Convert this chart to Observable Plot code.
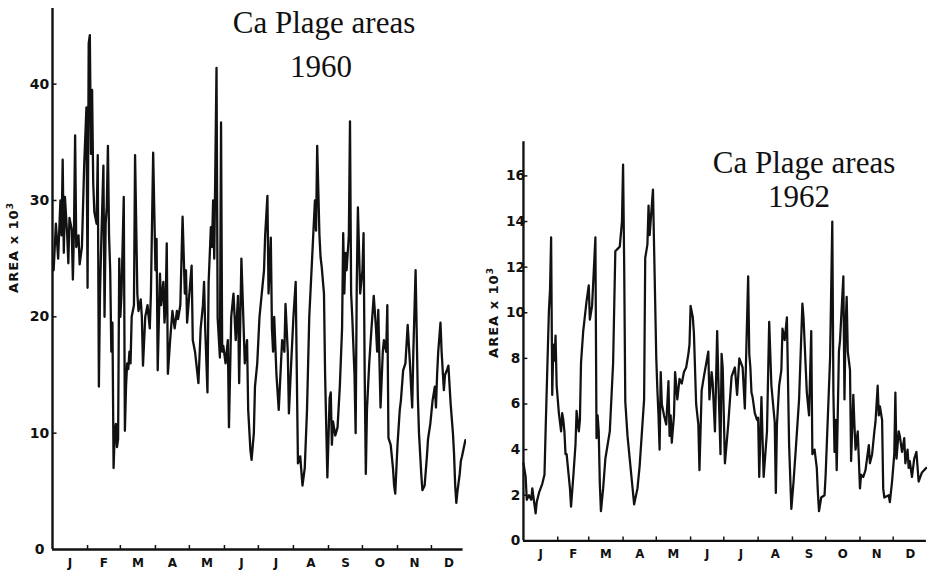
<!DOCTYPE html>
<html>
<head>
<meta charset="utf-8">
<script src="https://cdn.jsdelivr.net/npm/d3@7"></script>
<script src="https://cdn.jsdelivr.net/npm/@observablehq/plot@0.6"></script>
<style>
  html, body { margin: 0; padding: 0; background: #fff; }
  #fig { position: relative; width: 927px; height: 573px; overflow: hidden; background: #fff; }
  .panel { position: absolute; top: 0; }
  .title { position: absolute; width: 300px; text-align: center; white-space: nowrap;
           font-family: "Liberation Serif", "DejaVu Serif", serif; font-size: 31px; line-height: 31px; color: #111; }
  .ylab { position: absolute; white-space: nowrap; transform: translate(-50%, -50%) rotate(-90deg);
          font-family: "DejaVu Sans", sans-serif; font-weight: bold; font-size: 13px; letter-spacing: 1px; color: #111; }
  .ylab sup { font-size: 9px; letter-spacing: 0; }
</style>
</head>
<body>
<div id="fig">
  <div class="panel" id="p1960" style="left:0px"></div>
  <div class="panel" id="p1962" style="left:470px"></div>
  <div class="title" style="left:174px; top:7px">Ca Plage areas</div>
  <div class="title" style="left:171px; top:51px">1960</div>
  <div class="title" style="left:654px; top:147px">Ca Plage areas</div>
  <div class="title" style="left:649px; top:181px">1962</div>
  <div class="ylab" style="left:13px; top:248px">AREA x 10<sup>3</sup></div>
  <div class="ylab" style="left:493px; top:313px">AREA x 10<sup>3</sup></div>
</div>
<script>
// Daily Ca plage area (units of 10^3), day 0 = 1 January.
const days1960 = [1,3,5,7,8,9,10,11,13,14,15,17,18,19,20,21,23,24,26,28,30,31,32,33,34,35,36,37,39,40,41,42,43,45,46,47,48,49,50,51,52,53,54,55,56,57,58,59,60,61,63,64,65,66,67,68,69,70,72,73,75,76,78,79,80,82,84,86,87,89,91,92,93,95,96,98,99,100,101,102,104,106,108,110,111,113,115,117,118,119,121,123,124,126,129,131,133,134,135,137,138,140,141,142,143,145,146,148,149,150,151,153,155,156,158,160,162,164,165,167,168,170,172,173,175,176,178,179,181,183,185,187,188,190,191,193,194,195,196,198,200,202,203,205,206,208,209,211,213,215,216,217,219,221,223,225,227,230,232,233,234,236,237,238,240,241,243,245,246,247,248,250,252,254,256,257,258,259,260,262,263,264,265,267,268,269,270,272,274,275,276,277,278,280,282,284,286,287,288,290,292,293,295,296,297,299,301,302,303,305,307,308,310,312,314,316,317,318,319,321,323,324,326,327,329,331,332,334,336,338,339,340,341,343,344,346,347,349,350,352,354,355,356,357,358,360,361,362,365];
const area1960 = [24,28,25,30,27,33.5,25.5,30.3,27,24.6,28.5,27.5,23.2,27.5,35.6,26,27,24.5,26,33,38,22.5,43.5,44.2,34,39.5,31.5,29,28,33.9,14,22,26,33,20,28,29.5,34.7,27,24,17,19.5,7,10,10.8,8.8,9.5,25,20,22,30.3,10.2,14,16,15.5,17,16,20,21,33.9,22,20.5,21.5,20,15.8,20,21,19,22,34.1,24,26.7,15.4,23.7,21,23,19.5,21,26.3,15.1,18,20.5,19,20.5,19.8,21,28.6,22,24,19.5,22,24.4,18,17,14.3,19,21,23,19,13.5,22.9,27.7,26,30,25,41.4,19.9,16.5,36.7,17,17.5,16,18,10.5,20,22,18,21.8,14.3,25,22,16,18,12,8.5,7.7,10,14,16,20,22,24,27,30.4,22,26.8,19,17,20,15,12,16,18,17,21.1,17,11.7,16,20,23,15,7.4,8,5.5,7,12,20,26,30,27.4,34.7,27,25.1,24.3,22,15,6.2,13,13.5,9,11,9.8,10.5,14,19,27.2,22,25.5,24,27,36.8,22,20,15,10,23,29.4,22,24,27.2,15,6.5,12,16,19,21.8,19,17,20.6,12.2,17,18,17,21,9.6,9,7,5.5,4.8,9,12,12.8,15.4,16,19.3,16,14,12.2,17,24,13.1,10,6.5,5.1,5.5,8,9.5,10.8,12.8,14,12.2,15,17,19.5,17,13.7,15,15.5,15.8,12.5,10,8.2,5.5,4,5,6.5,7.6,8,9.4];

const days1962 = [0,2,3,5,7,8,11,12,14,17,19,20,23,24,25,26,27,28,29,30,32,34,35,36,37,38,39,41,42,43,45,47,48,50,51,52,54,57,59,60,62,65,66,67,68,69,70,72,74,78,81,83,87,89,90,91,92,94,97,98,100,103,105,109,110,112,113,114,117,120,121,122,123,124,125,127,128,129,131,132,133,134,136,137,139,141,143,145,147,149,150,151,153,154,156,158,159,161,163,167,168,170,171,173,175,176,178,179,180,182,185,188,191,193,195,198,200,203,204,205,206,207,209,211,212,213,215,216,217,220,222,224,227,228,229,231,233,234,236,238,240,241,242,244,246,249,252,253,256,258,260,261,263,265,266,267,269,272,273,277,279,280,281,282,283,285,286,289,290,291,292,293,295,296,298,299,300,302,304,305,307,309,312,313,315,317,318,320,321,322,324,325,326,330,331,333,335,336,337,339,340,342,344,345,347,348,349,351,353,355,357,360,364];
const area1962 = [3.4,2.8,1.8,2.0,1.8,2.3,1.2,1.7,2.1,2.5,2.9,4.8,10.1,11,13.3,6.4,8.6,7.9,9.0,6.8,5.6,4.8,5.6,5.3,4.8,3.8,3.8,2.8,2.3,1.5,2.8,4.2,5.7,4.8,5.3,7.8,9.2,10.5,11.2,9.7,10.3,13.3,4.5,5.5,4.8,2.5,1.3,2.3,3.6,4.8,7.8,12.7,12.9,14.0,16.5,12.1,6.1,4.6,3.1,2.6,1.6,2.3,3.3,6.2,12.4,13,14.7,13.4,15.4,8,6.6,5.5,4.0,7.4,6.0,5.5,5.3,5.1,7.0,4.6,5.5,4.3,5.5,7.4,6.2,7.1,6.9,7.4,7.6,8.2,8.6,10.3,9.8,9.1,6,5.1,3.1,6.6,7.2,8.3,6.2,7.4,6.9,4.8,9.2,7.2,3.8,8.2,7.6,3.4,5.1,7.2,7.6,6.4,8.0,7.6,5.8,11.6,8.2,7.6,6.5,6.3,5.6,5.3,5.4,2.8,6.3,4.5,2.8,4.8,9.6,6.8,5.2,2.1,5.1,6.8,7.5,9.3,8.8,9.8,4.2,2.8,1.4,2.6,4.0,6.2,10.4,9.8,6.5,5.5,9.2,3.8,4.0,3.2,2.1,1.3,1.9,2.0,2.9,8,14.0,6.5,3.9,5.3,3.1,8.3,8.8,11.6,6.2,9.4,10.7,8.3,7.5,3.5,6.4,5.1,4.0,4.8,2.3,2.9,2.8,3.1,4.2,3.4,3.8,4.8,5.2,6.8,5.5,5.9,5.3,2.3,1.9,2.0,1.7,2.6,3.8,6.5,3.6,4.8,4.6,3.9,4.5,3.4,4.0,3.2,3.5,2.8,3.6,3.9,2.6,3.0,3.2];

const monthLetters = ["J","F","M","A","M","J","J","A","S","O","N","D"];
const yTicks1960 = [0, 10, 20, 30, 40];
const yTicks1962 = [0, 2, 4, 6, 8, 10, 12, 14, 16];

const FONT = "DejaVu Sans, sans-serif";
const INK = "#111";

function drawPanel({year, days, values, yTicks, yMax, width, marginLeft, marginTop, marginBottom, labelPad, axisEndDay}) {
  const height = 573;
  const start = new Date(Date.UTC(year, 0, 1));
  const end = new Date(Date.UTC(year + 1, 0, 1));
  const dayDate = d => new Date(Date.UTC(year, 0, 1 + d));
  const series = days.map((d, i) => ({date: dayDate(d), area: values[i]}));
  const monthStarts = d3.utcMonths(new Date(Date.UTC(year, 1, 1)), end);
  const monthMids = d3.utcMonths(start, end).map(m => new Date((+m + +d3.utcMonth.offset(m, 1)) / 2));
  const nDays = (end - start) / 864e5;
  const pxPerUnit = (height - marginTop - marginBottom) / yMax;
  const pxPerDay = (width - marginLeft) / nDays;
  const xTickLen = 4 / pxPerUnit;      // inward tick length, in data units
  const yTickDays = 5 / pxPerDay;

  return Plot.plot({
    width, height, marginLeft, marginRight: 0, marginTop, marginBottom,
    style: {fontFamily: FONT, color: INK, background: "transparent"},
    x: {type: "utc", domain: [start, end]},
    y: {domain: [0, yMax]},
    marks: [
      Plot.axisY(yTicks, {tickSize: 0, tickPadding: labelPad, textAnchor: "middle",
                          fontSize: 14, fontWeight: "bold", label: null}),
      Plot.axisX(monthMids, {tickSize: 0, tickPadding: 9, fontSize: 12, fontWeight: "bold",
                             tickFormat: d => monthLetters[d.getUTCMonth()], label: null}),
      Plot.ruleX(monthStarts, {x: d => d, y1: 0, y2: xTickLen, stroke: INK, strokeWidth: 1.5}),
      Plot.ruleY(yTicks.filter(t => t > 0), {y: d => d, x1: start, x2: dayDate(yTickDays), stroke: INK, strokeWidth: 1.5}),
      Plot.line(series, {x: "date", y: "area", stroke: INK, strokeWidth: 2.3, strokeLinejoin: "round"}),
      Plot.ruleY([0], {x1: start, x2: dayDate(axisEndDay), stroke: INK, strokeWidth: 2.4}),
      Plot.ruleX([start], {stroke: INK, strokeWidth: 2.4})
    ]
  });
}

document.getElementById("p1960").append(drawPanel({
  year: 1960, days: days1960, values: area1960, yTicks: yTicks1960, yMax: 46.5,
  width: 466, marginLeft: 52, marginTop: 8, marginBottom: 24, labelPad: 13, axisEndDay: 363
}));

document.getElementById("p1962").append(drawPanel({
  year: 1962, days: days1962, values: area1962, yTicks: yTicks1962, yMax: 17.5,
  width: 466, marginLeft: 54, marginTop: 144, marginBottom: 22, labelPad: 8, axisEndDay: 364
}));
</script>
</body>
</html>
